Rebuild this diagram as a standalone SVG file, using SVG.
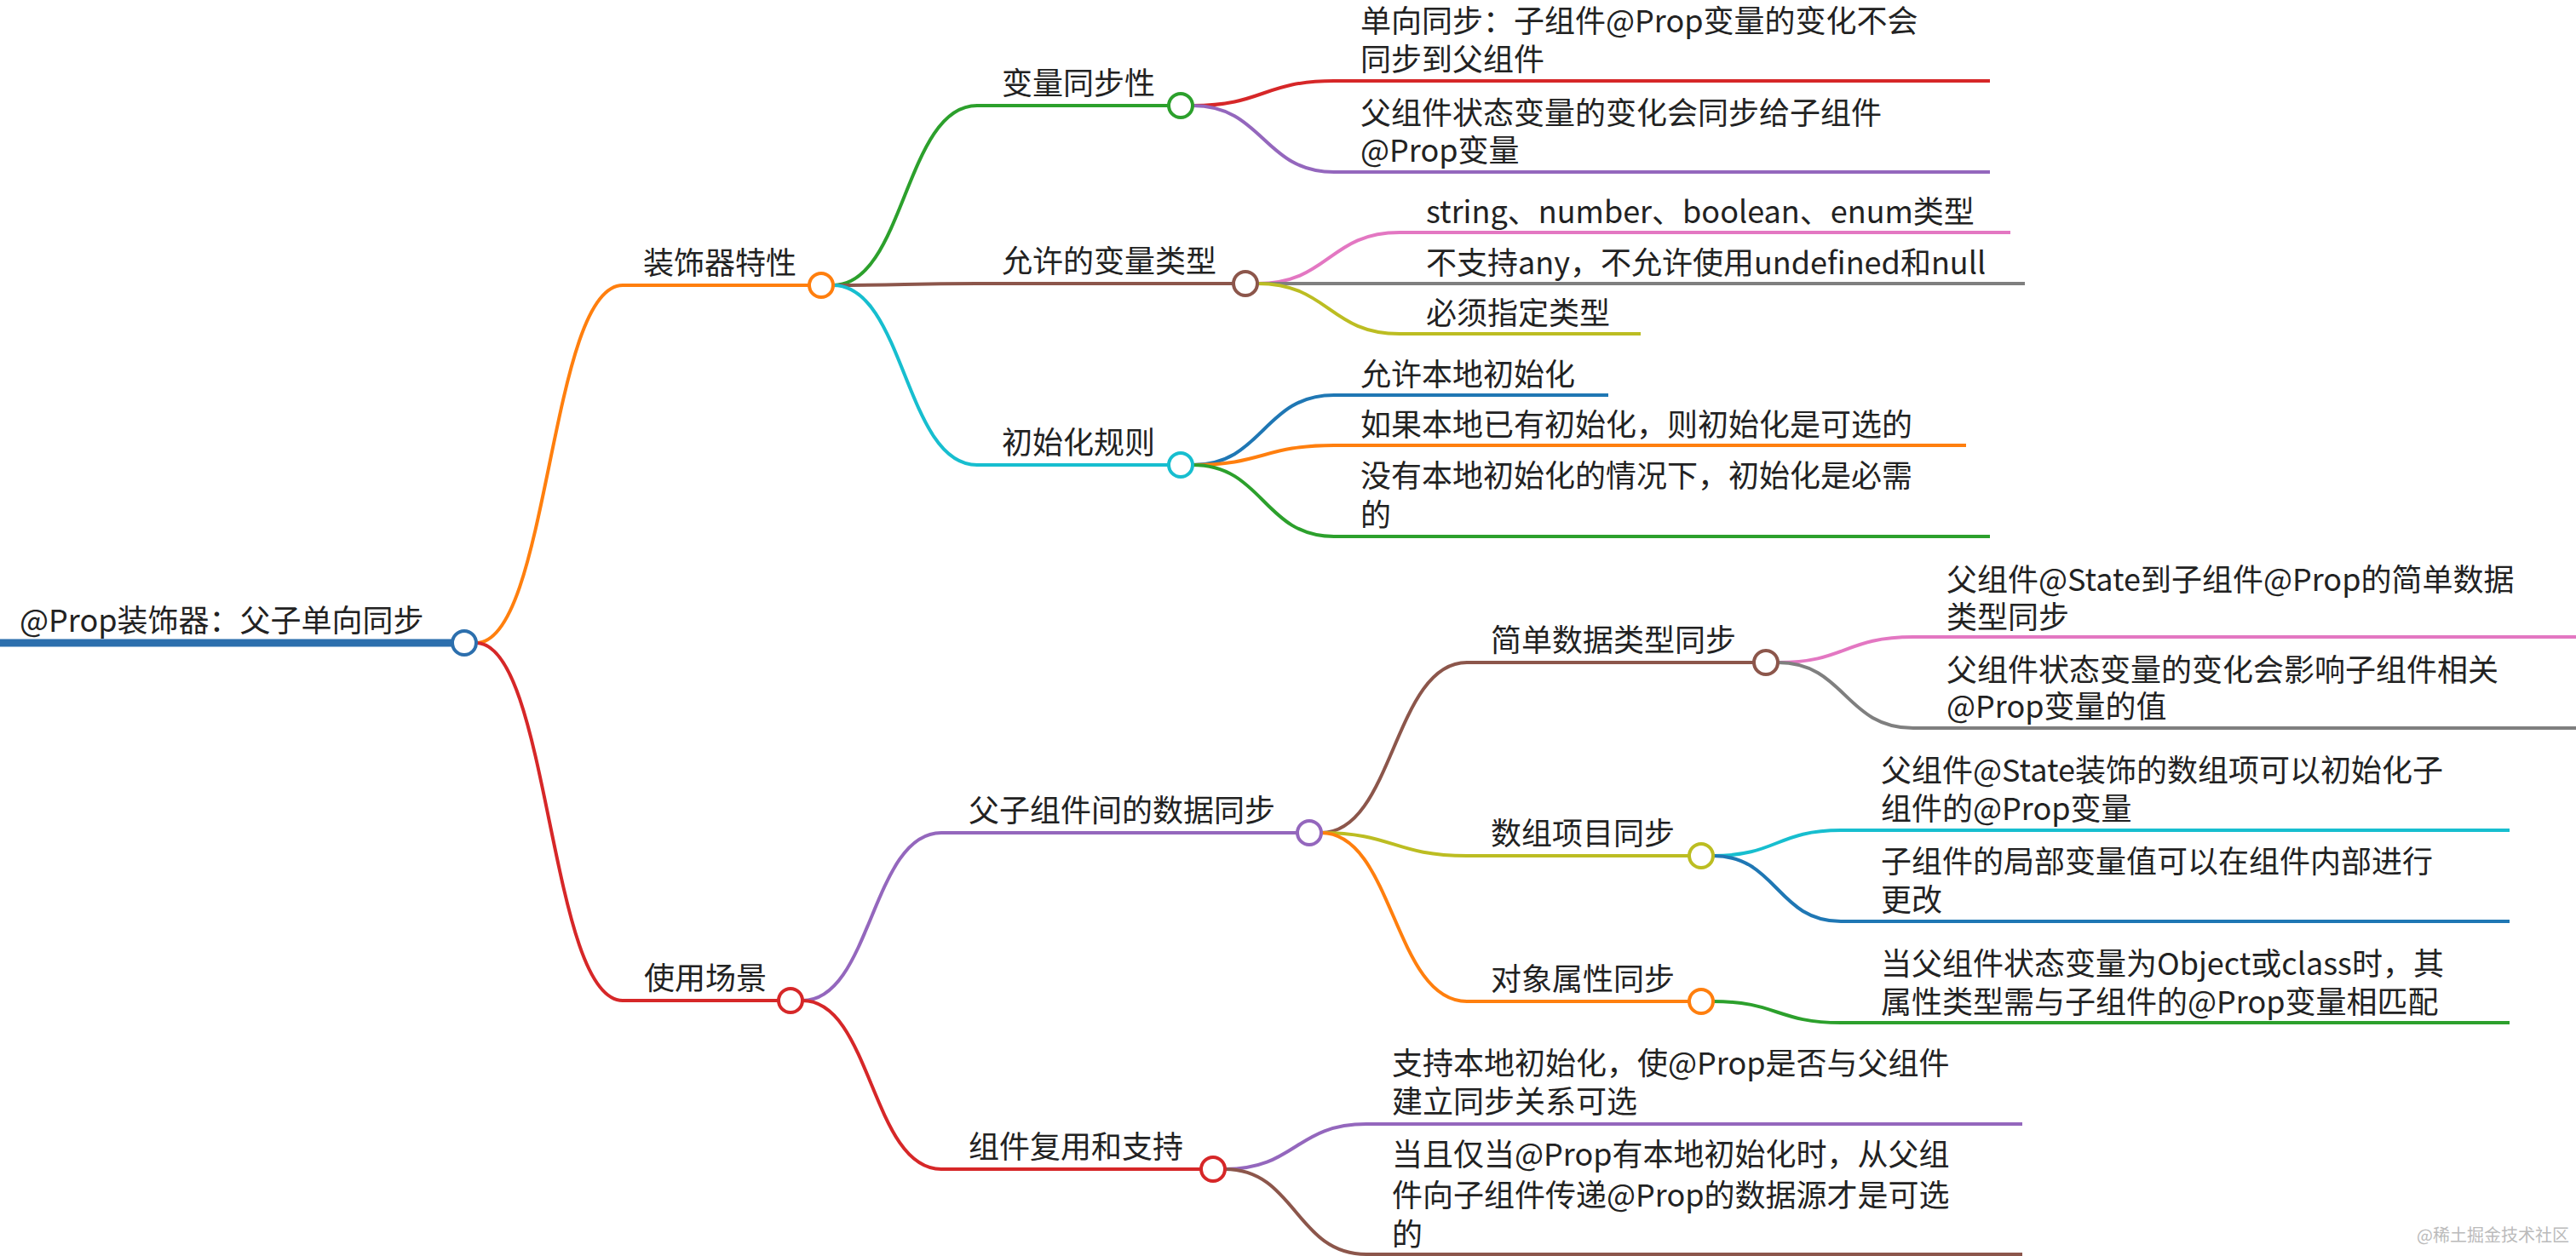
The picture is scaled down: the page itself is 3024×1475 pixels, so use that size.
<svg xmlns="http://www.w3.org/2000/svg" width="3024" height="1475" viewBox="0 0 3024 1475">
<style>
text{font-family:"Noto Sans CJK SC","Noto Sans",sans-serif;font-size:36px;fill:#222}
.e{fill:none;stroke-width:4}
circle{fill:#fff;stroke-width:4}
.wm{font-size:20px;fill:#bbb;text-anchor:end}
</style>
<rect width="3024" height="1475" fill="#fff"/>
<g id="connectors">
<path d="M0 755H531" stroke="#2c6fad" stroke-width="9" fill="none"/>
<path class="e" stroke="#ff7f0e" d="M559 755C645 755 645 335 731 335H950"/>
<path class="e" stroke="#d62728" d="M559 755C645 755 645 1175 731 1175H914"/>
<path class="e" stroke="#2ca02c" d="M978 335C1062 335 1062 124 1147 124H1372"/>
<path class="e" stroke="#8c564b" d="M978 335C1062 335 1062 333 1147 333H1448"/>
<path class="e" stroke="#17becf" d="M978 335C1062 335 1062 546 1147 546H1372"/>
<path class="e" stroke="#d62728" d="M1400 124C1483 124 1483 95 1566 95H2336"/>
<path class="e" stroke="#9467bd" d="M1400 124C1483 124 1483 202 1566 202H2336"/>
<path class="e" stroke="#e377c2" d="M1476 333C1560 333 1560 273 1643 273H2360"/>
<path class="e" stroke="#7f7f7f" d="M1476 333H2377"/>
<path class="e" stroke="#bcbd22" d="M1476 333C1560 333 1560 392 1643 392H1926"/>
<path class="e" stroke="#1f77b4" d="M1400 546C1483 546 1483 464 1566 464H1888"/>
<path class="e" stroke="#ff7f0e" d="M1400 546C1483 546 1483 523 1566 523H2308"/>
<path class="e" stroke="#2ca02c" d="M1400 546C1483 546 1483 630 1566 630H2336"/>
<path class="e" stroke="#9467bd" d="M942 1175C1023 1175 1023 978 1105 978H1523"/>
<path class="e" stroke="#d62728" d="M942 1175C1023 1175 1023 1373 1105 1373H1410"/>
<path class="e" stroke="#8c564b" d="M1551 978C1636 978 1636 778 1722 778H2059"/>
<path class="e" stroke="#bcbd22" d="M1551 978C1636 978 1636 1005 1722 1005H1983"/>
<path class="e" stroke="#ff7f0e" d="M1551 978C1636 978 1636 1176 1722 1176H1983"/>
<path class="e" stroke="#9467bd" d="M1438 1373C1521 1373 1521 1320 1604 1320H2374"/>
<path class="e" stroke="#8c564b" d="M1438 1373C1521 1373 1521 1473 1604 1473H2374"/>
<path class="e" stroke="#e377c2" d="M2087 778C2166 778 2166 748 2246 748H3024"/>
<path class="e" stroke="#7f7f7f" d="M2087 778C2166 778 2166 855 2246 855H3024"/>
<path class="e" stroke="#17becf" d="M2011 1005C2086 1005 2086 975 2161 975H2946"/>
<path class="e" stroke="#1f77b4" d="M2011 1005C2086 1005 2086 1082 2161 1082H2946"/>
<path class="e" stroke="#2ca02c" d="M2011 1176C2086 1176 2086 1201 2161 1201H2946"/>
</g>
<g id="root"><text x="23" y="742">@Prop装饰器：父子单向同步</text><circle cx="545" cy="755" r="14" stroke="#2c6fad"/></g>
<g id="n1"><text x="755" y="322">装饰器特性</text><circle cx="964" cy="335" r="14" stroke="#ff7f0e"/></g>
<g id="n2"><text x="756" y="1162">使用场景</text><circle cx="928" cy="1175" r="14" stroke="#d62728"/></g>
<g id="n11"><text x="1176" y="111">变量同步性</text><circle cx="1386" cy="124" r="14" stroke="#2ca02c"/></g>
<g id="n12"><text x="1176" y="320">允许的变量类型</text><circle cx="1462" cy="333" r="14" stroke="#8c564b"/></g>
<g id="n13"><text x="1176" y="533">初始化规则</text><circle cx="1386" cy="546" r="14" stroke="#17becf"/></g>
<g id="l111"><text x="1597" y="38">单向同步：子组件@Prop变量的变化不会</text><text x="1597" y="83">同步到父组件</text></g>
<g id="l112"><text x="1597" y="146">父组件状态变量的变化会同步给子组件</text><text x="1597" y="190">@Prop变量</text></g>
<g id="l121"><text x="1674" y="262">string、number、boolean、enum类型</text></g>
<g id="l122"><text x="1674" y="322">不支持any，不允许使用undefined和null</text></g>
<g id="l123"><text x="1674" y="381">必须指定类型</text></g>
<g id="l131"><text x="1597" y="453">允许本地初始化</text></g>
<g id="l132"><text x="1597" y="512">如果本地已有初始化，则初始化是可选的</text></g>
<g id="l133"><text x="1597" y="572">没有本地初始化的情况下，初始化是必需</text><text x="1597" y="618">的</text></g>
<g id="n21"><text x="1137" y="965">父子组件间的数据同步</text><circle cx="1537" cy="978" r="14" stroke="#9467bd"/></g>
<g id="n22"><text x="1137" y="1360">组件复用和支持</text><circle cx="1424" cy="1373" r="14" stroke="#d62728"/></g>
<g id="n211"><text x="1750" y="765">简单数据类型同步</text><circle cx="2073" cy="778" r="14" stroke="#8c564b"/></g>
<g id="n212"><text x="1750" y="992">数组项目同步</text><circle cx="1997" cy="1005" r="14" stroke="#bcbd22"/></g>
<g id="n213"><text x="1750" y="1163">对象属性同步</text><circle cx="1997" cy="1176" r="14" stroke="#ff7f0e"/></g>
<g id="l2111"><text x="2285" y="694">父组件@State到子组件@Prop的简单数据</text><text x="2285" y="738">类型同步</text></g>
<g id="l2112"><text x="2285" y="800">父组件状态变量的变化会影响子组件相关</text><text x="2285" y="843">@Prop变量的值</text></g>
<g id="l2121"><text x="2208" y="918">父组件@State装饰的数组项可以初始化子</text><text x="2208" y="963">组件的@Prop变量</text></g>
<g id="l2122"><text x="2208" y="1025">子组件的局部变量值可以在组件内部进行</text><text x="2208" y="1070">更改</text></g>
<g id="l2131"><text x="2208" y="1145">当父组件状态变量为Object或class时，其</text><text x="2208" y="1190">属性类型需与子组件的@Prop变量相匹配</text></g>
<g id="l221"><text x="1634" y="1262">支持本地初始化，使@Prop是否与父组件</text><text x="1634" y="1307">建立同步关系可选</text></g>
<g id="l222"><text x="1634" y="1369">当且仅当@Prop有本地初始化时，从父组</text><text x="1634" y="1417">件向子组件传递@Prop的数据源才是可选</text><text x="1634" y="1463">的</text></g>
<text class="wm" x="3016" y="1458">@稀土掘金技术社区</text>
</svg>
